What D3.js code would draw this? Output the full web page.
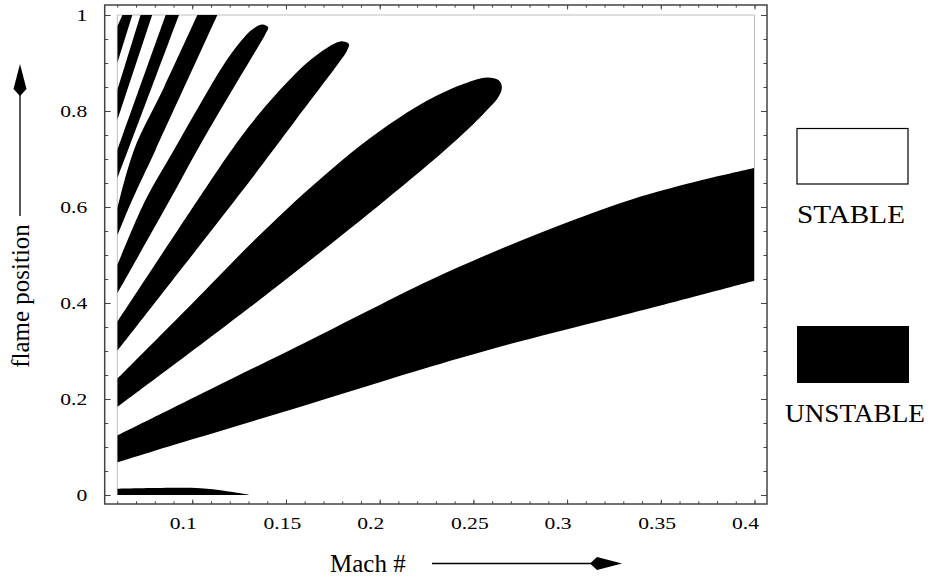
<!DOCTYPE html>
<html>
<head>
<meta charset="utf-8">
<script src="https://cdnjs.cloudflare.com/ajax/libs/d3/7.8.5/d3.min.js"></script>
<style>
  body { margin: 0; background: #fff; }
  text { font-family: 'Liberation Serif', 'Times New Roman', serif; }
</style>
</head>
<body>
<div id="wrapper"></div>
<script>
// unstable regions as [mach, flame position] points, upper edge then lower edge (both left to right)
const band0Upper = [[0.06, 0.013], [0.08, 0.0145], [0.1044, 0.014], [0.1169, 0.009], [0.1258, 0.0035], [0.1302, 0]]
const band0Lower = [[0.06, 0]]
const bandAUpper = [[0.06, 0.124], [0.11, 0.221], [0.163, 0.323], [0.196, 0.388], [0.227, 0.448], [0.2805, 0.538], [0.334, 0.615], [0.37, 0.654], [0.4, 0.681]]
const bandALower = [[0.06, 0.068], [0.10, 0.116], [0.163, 0.19], [0.227, 0.267], [0.27, 0.315], [0.316, 0.361], [0.352, 0.397], [0.4, 0.4465]]
const bandBUpper = [[0.06, 0.242], [0.1, 0.399], [0.1311, 0.523], [0.15, 0.594], [0.17, 0.664], [0.19, 0.729], [0.21, 0.785], [0.23, 0.831], [0.245, 0.857], [0.2575, 0.870], [0.2635, 0.864], [0.2652, 0.85]]
const bandBLower = [[0.06, 0.183], [0.1311, 0.392], [0.2023, 0.612], [0.2379, 0.729], [0.2556, 0.795], [0.2635, 0.83]]
const bandCUpper = [[0.06, 0.361], [0.103, 0.615], [0.1205, 0.716], [0.1311, 0.772], [0.1454, 0.838], [0.1605, 0.898], [0.172, 0.932], [0.179, 0.945], [0.1835, 0.94]]
const bandCLower = [[0.06, 0.30], [0.1, 0.50], [0.123, 0.615], [0.1311, 0.656], [0.155, 0.78], [0.1793, 0.906], [0.1825, 0.925]]
const bandDUpper = [[0.06, 0.479], [0.0751, 0.615], [0.0902, 0.719], [0.105, 0.82], [0.117, 0.898], [0.126, 0.946], [0.132, 0.970], [0.1375, 0.98], [0.1405, 0.974]]
const bandDLower = [[0.06, 0.42], [0.0881, 0.615], [0.1027, 0.719], [0.12, 0.835], [0.133, 0.92], [0.139, 0.96]]
const bandEUpper = [[0.06, 0.597], [0.0689, 0.719], [0.085, 0.85], [0.1027, 1.0]]
const bandELower = [[0.06, 0.54], [0.068, 0.615], [0.0804, 0.719], [0.1134, 1.0]]
const bandFUpper = [[0.06, 0.719], [0.072, 0.85], [0.0858, 1.0]]
const bandFLower = [[0.06, 0.66], [0.076, 0.825], [0.0929, 1.0]]
const bandGUpper = [[0.06, 0.844], [0.0724, 1.0]]
const bandGLower = [[0.06, 0.781], [0.0786, 1.0]]
const bandHUpper = [[0.06, 0.976], [0.0627, 1.0]]
const bandHLower = [[0.06, 0.90], [0.068, 1.0]]

const xMajorTicks = [0.1, 0.15, 0.2, 0.25, 0.3, 0.35, 0.4]
const xTickLabels = ['0.1', '0.15', '0.2', '0.25', '0.3', '0.35', '0.4']
const yMajorTicks = [0, 0.2, 0.4, 0.6, 0.8, 1]
const yTickLabels = ['0', '0.2', '0.4', '0.6', '0.8', '1']
const xDomain = [0.06, 0.4]
const yDomain = [0, 1]
const stableEdgeRight = 0.681
const legendLabels = ['STABLE', 'UNSTABLE']
const xLabel = 'Mach #'
const yLabel = 'flame position'

// closed: the band ends inside the plot with a rounded tip
const bands = [
    { upper: band0Upper, lower: band0Lower, closed: true },
    { upper: bandAUpper, lower: bandALower, closed: false },
    { upper: bandBUpper, lower: bandBLower, closed: true },
    { upper: bandCUpper, lower: bandCLower, closed: true },
    { upper: bandDUpper, lower: bandDLower, closed: true },
    { upper: bandEUpper, lower: bandELower, closed: false },
    { upper: bandFUpper, lower: bandFLower, closed: false },
    { upper: bandGUpper, lower: bandGLower, closed: false },
    { upper: bandHUpper, lower: bandHLower, closed: false }
]

const dms = {
    width: 933,
    height: 580,
    plot: { left: 117.3, right: 754.5, top: 15, bottom: 495 },
    pad: { left: 12.6, right: 12.5, top: 10, bottom: 9 }
}
const frame = {
    x0: dms.plot.left - dms.pad.left,
    x1: dms.plot.right + dms.pad.right,
    y0: dms.plot.top - dms.pad.top,
    y1: dms.plot.bottom + dms.pad.bottom
}

const svg = d3.select('#wrapper')
    .append('svg')
    .attr('width', dms.width)
    .attr('height', dms.height)

const xScale = d3.scaleLinear().domain(xDomain).range([dms.plot.left, dms.plot.right])
const yScale = d3.scaleLinear().domain(yDomain).range([dms.plot.bottom, dms.plot.top])

svg.append('clipPath')
    .attr('id', 'plot-clip')
    .append('rect')
    .attr('x', xScale(xDomain[0]))
    .attr('y', yScale(yDomain[1]))
    .attr('width', xScale(xDomain[1]) - xScale(xDomain[0]))
    .attr('height', yScale(yDomain[0]) - yScale(yDomain[1]))

// light grey edge of the stable region
const edgeGroup = svg.append('g')
    .attr('stroke', '#bdbdbd')
    .attr('stroke-width', 1)
edgeGroup.append('line')
    .attr('x1', xScale(xDomain[0])).attr('x2', xScale(xDomain[0]))
    .attr('y1', yScale(yDomain[0])).attr('y2', yScale(yDomain[1]))
edgeGroup.append('line')
    .attr('x1', xScale(xDomain[0])).attr('x2', xScale(xDomain[1]))
    .attr('y1', yScale(yDomain[1])).attr('y2', yScale(yDomain[1]))
edgeGroup.append('line')
    .attr('x1', xScale(xDomain[1])).attr('x2', xScale(xDomain[1]))
    .attr('y1', yScale(stableEdgeRight)).attr('y2', yScale(yDomain[1]))

// unstable bands
const line = d3.line()
    .x(d => xScale(d[0]))
    .y(d => yScale(d[1]))
    .curve(d3.curveCatmullRom)

const bandPath = b => {
    const back = b.lower.slice().reverse()
    if (b.closed) return line(b.upper.concat(back)) + 'Z'
    return line(b.upper) + 'L' + line(back).substring(1) + 'Z'
}

svg.append('g')
    .attr('clip-path', 'url(#plot-clip)')
    .selectAll('path')
    .data(bands)
    .join('path')
    .attr('d', bandPath)
    .attr('fill', '#000')

// frame with inward ticks
svg.append('rect')
    .attr('x', frame.x0)
    .attr('y', frame.y0)
    .attr('width', frame.x1 - frame.x0)
    .attr('height', frame.y1 - frame.y0)
    .attr('fill', 'none')
    .attr('stroke', '#444')
    .attr('stroke-width', 1.5)

const xMinorTicks = d3.range(6, 41).map(v => v / 100)
const yMinorTicks = d3.range(0, 21).map(v => v / 20)

const addAxis = (axis, transform) => {
    const g = svg.append('g')
        .attr('transform', transform)
        .call(axis)
    g.select('.domain').remove()
    g.selectAll('line').attr('stroke', '#444')
    return g
}

addAxis(d3.axisBottom(xScale).tickValues(xMinorTicks).tickSize(-2.7).tickFormat(''), `translate(0,${frame.y1})`)
addAxis(d3.axisTop(xScale).tickValues(xMinorTicks).tickSize(-2.7).tickFormat(''), `translate(0,${frame.y0})`)
addAxis(d3.axisTop(xScale).tickValues(xMajorTicks).tickSize(-4.5).tickFormat(''), `translate(0,${frame.y0})`)
addAxis(d3.axisLeft(yScale).tickValues(yMinorTicks).tickSize(-3.5).tickFormat(''), `translate(${frame.x0},0)`)
addAxis(d3.axisRight(yScale).tickValues(yMinorTicks).tickSize(-3.5).tickFormat(''), `translate(${frame.x1},0)`)
addAxis(d3.axisRight(yScale).tickValues(yMajorTicks).tickSize(-6).tickFormat(''), `translate(${frame.x1},0)`)

const labelStretch = 1.35
const xAxis = addAxis(
    d3.axisBottom(xScale).tickValues(xMajorTicks).tickSize(-4.5).tickFormat((d, i) => xTickLabels[i]),
    `translate(0,${frame.y1})`
)
xAxis.selectAll('text')
    .attr('text-anchor', 'start')
    .attr('x', -23 / labelStretch)
    .attr('y', 25)
    .attr('dy', null)
    .attr('transform', `scale(${labelStretch},1)`)
    .attr('fill', '#000')
    .style('font-size', '16px')

const yAxis = addAxis(
    d3.axisLeft(yScale).tickValues(yMajorTicks).tickSize(-6).tickFormat((d, i) => yTickLabels[i]),
    `translate(${frame.x0},0)`
)
yAxis.selectAll('text')
    .attr('text-anchor', 'end')
    .attr('x', -17.5 / labelStretch)
    .attr('dy', '0.34em')
    .attr('transform', `scale(${labelStretch},1)`)
    .attr('fill', '#000')
    .style('font-size', '16px')

// axis titles with arrows
svg.append('text')
    .attr('x', 330)
    .attr('y', 572)
    .text(xLabel)
    .style('font-size', '25px')

svg.append('line')
    .attr('x1', 432).attr('x2', 598)
    .attr('y1', 563.5).attr('y2', 563.5)
    .attr('stroke', '#000')
    .attr('stroke-width', 1.3)
svg.append('path')
    .attr('d', 'M622,563.5 L597,557 L590,563.5 L597,570 Z')
    .attr('fill', '#000')

svg.append('text')
    .attr('transform', 'translate(29,296) rotate(-90)')
    .attr('text-anchor', 'middle')
    .text(yLabel)
    .style('font-size', '25px')

svg.append('line')
    .attr('x1', 20).attr('x2', 20)
    .attr('y1', 216).attr('y2', 90)
    .attr('stroke', '#000')
    .attr('stroke-width', 1.3)
svg.append('path')
    .attr('d', 'M20,64 L26.5,89 L20,96 L13.5,89 Z')
    .attr('fill', '#000')

// legend
const legend = svg.append('g')
legend.append('rect')
    .attr('x', 797).attr('y', 128.5)
    .attr('width', 111).attr('height', 55.5)
    .attr('fill', '#fff')
    .attr('stroke', '#000')
    .attr('stroke-width', 1.2)
legend.append('text')
    .attr('x', 851).attr('y', 223)
    .attr('text-anchor', 'middle')
    .attr('textLength', 108)
    .attr('lengthAdjust', 'spacingAndGlyphs')
    .text(legendLabels[0])
    .style('font-size', '25px')
legend.append('rect')
    .attr('x', 797).attr('y', 326)
    .attr('width', 112).attr('height', 57)
    .attr('fill', '#000')
legend.append('text')
    .attr('x', 855).attr('y', 422)
    .attr('text-anchor', 'middle')
    .attr('textLength', 140)
    .attr('lengthAdjust', 'spacingAndGlyphs')
    .text(legendLabels[1])
    .style('font-size', '25px')
</script>
</body>
</html>
